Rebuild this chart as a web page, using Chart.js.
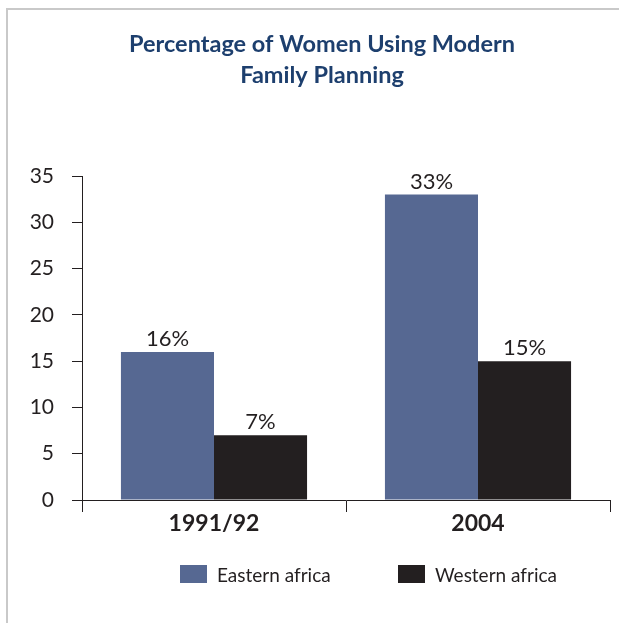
<!DOCTYPE html>
<html>
<head>
<meta charset="utf-8">
<title>Percentage of Women Using Modern Family Planning</title>
<script src="https://cdn.jsdelivr.net/npm/chart.js@4"></script>
<style>
    body { margin: 0; background: #fff; }
    .wrap { position: relative; width: 619px; height: 623px; }
    .frame {
        position: absolute; left: 6px; top: 8px; right: 0; bottom: 0;
        border-left: 2px solid #c9c9c9; border-top: 2px solid #c9c9c9;
        pointer-events: none;
    }
</style>
</head>
<body>

<div class="wrap">
    <canvas id="chart" width="619" height="623"></canvas>
    <div class="frame"></div>
</div>

<script>

    const periods = ["1991/92", "2004"]
    const eastern = [16, 33]
    const western = [7, 15]
    const yTicks = [0, 5, 10, 15, 20, 25, 30, 35]
    const titleLines = ['Percentage of Women Using Modern', 'Family Planning']

    const ink = '#231f20'
    const font = 'Lato, "Open Sans", sans-serif'

    // two-line heading, centred on the framed panel rather than the plot
    const heading = {
        id: 'heading',
        afterDraw(chart) {
            const ctx = chart.ctx
            ctx.save()
            ctx.font = `bold 23.5px ${font}`
            ctx.fillStyle = '#1d3f6e'
            ctx.textAlign = 'center'
            ctx.textBaseline = 'alphabetic'
            titleLines.forEach((line, i) => ctx.fillText(line, 322, 52 + i * 30.5))
            ctx.restore()
        }
    }

    // percent labels above each bar
    const barLabels = {
        id: 'barLabels',
        afterDatasetsDraw(chart) {
            const ctx = chart.ctx
            ctx.save()
            ctx.font = `22px ${font}`
            ctx.fillStyle = ink
            ctx.textAlign = 'center'
            ctx.textBaseline = 'alphabetic'
            chart.data.datasets.forEach((ds, i) => {
                chart.getDatasetMeta(i).data.forEach((bar, j) => {
                    ctx.fillText(ds.data[j] + '%', bar.x, bar.y - 6)
                })
            })
            ctx.restore()
        }
    }

    // legend row under the axis
    const legendRow = {
        id: 'legendRow',
        afterDraw(chart) {
            const ctx = chart.ctx
            const starts = [180, 398]
            ctx.save()
            ctx.font = `19px ${font}`
            ctx.textBaseline = 'alphabetic'
            ctx.textAlign = 'left'
            chart.data.datasets.forEach((ds, i) => {
                ctx.fillStyle = ds.backgroundColor
                ctx.fillRect(starts[i], 565, 27, 18)
                ctx.fillStyle = ink
                ctx.fillText(ds.label, starts[i] + 37, 582)
            })
            ctx.restore()
        }
    }

    new Chart(document.getElementById('chart'), {
        type: 'bar',
        data: {
            labels: periods,
            datasets: [
                { label: 'Eastern africa', data: eastern, backgroundColor: '#566892' },
                { label: 'Western africa', data: western, backgroundColor: ink }
            ]
        },
        options: {
            responsive: false,
            animation: false,
            devicePixelRatio: 1,
            categoryPercentage: 0.705,
            barPercentage: 1,
            layout: { padding: { left: 0, right: 9, top: 176, bottom: 68 } },
            plugins: {
                legend: { display: false },
                title: { display: false },
                tooltip: { enabled: false }
            },
            scales: {
                x: {
                    grid: { offset: true, drawOnChartArea: false, tickLength: 12, color: ink },
                    border: { display: true, color: ink },
                    ticks: { color: ink, padding: -2, font: { family: font, size: 23, weight: 'bold' } },
                    afterFit: scale => { scale.height = 55 }
                },
                y: {
                    min: 0,
                    max: 35,
                    afterBuildTicks: scale => { scale.ticks = yTicks.map(v => ({ value: v })) },
                    grid: { drawOnChartArea: false, tickLength: 10, color: ink },
                    border: { display: true, color: ink },
                    ticks: { color: ink, padding: 18, font: { family: font, size: 21 } },
                    afterFit: scale => { scale.width = 82 }
                }
            }
        },
        plugins: [heading, barLabels, legendRow]
    })

</script>
</body>
</html>
